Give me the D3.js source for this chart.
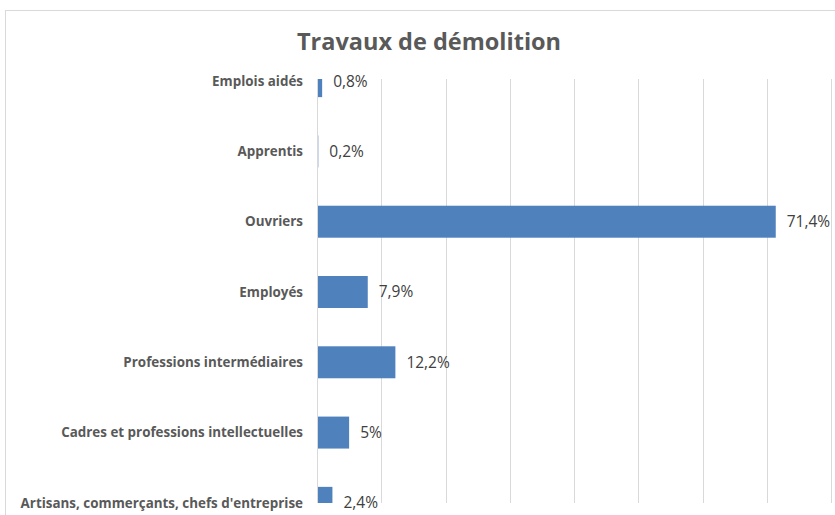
<!DOCTYPE html>
<html>
<head>
<meta charset="utf-8">
<script src="https://cdn.jsdelivr.net/npm/d3@7"></script>
<style>
  body { margin: 0; background: #fff; }
</style>
</head>
<body>
<div id="chart-area"></div>
<script>
// Data
const categories = ['Emplois aidés', 'Apprentis', 'Ouvriers', 'Employés',
  'Professions intermédiaires', 'Cadres et professions intellectuelles',
  "Artisans, commerçants, chefs d'entreprise"]
const values = [0.8, 0.2, 71.4, 7.9, 12.2, 5, 2.4]
const valueLabels = ['0,8%', '0,2%', '71,4%', '7,9%', '12,2%', '5%', '2,4%']
const xTicks = [0, 10, 20, 30, 40, 50, 60, 70, 80]

const W = 835, H = 515
const PLOT = { LEFT: 317, RIGHT: 831, TOP: 79, BOTTOM: 503 }
const FONT = "'Open Sans', sans-serif"

const svg = d3.select('#chart-area').append('svg')
  .attr('width', W)
  .attr('height', H)

// chart frame
svg.append('rect')
  .attr('x', 5.5).attr('y', 10.5)
  .attr('width', W + 20).attr('height', H + 20)
  .attr('fill', '#fff')
  .attr('stroke', '#d9d9d9')

// title
svg.append('text')
  .attr('x', 429)
  .attr('y', 50)
  .attr('text-anchor', 'middle')
  .attr('font-family', FONT)
  .attr('font-size', '23.5px')
  .attr('font-weight', 'bold')
  .attr('fill', '#595959')
  .text('Travaux de démolition')

// scales
const x = d3.scaleLinear()
  .domain([0, 80])
  .range([PLOT.LEFT, PLOT.RIGHT])

const y = d3.scaleBand()
  .domain(categories)
  .range([46, 538])
  .paddingInner(0.545)
  .paddingOuter(0.2725)

svg.append('clipPath').attr('id', 'plot-clip')
  .append('rect')
  .attr('x', PLOT.LEFT).attr('y', PLOT.TOP)
  .attr('width', PLOT.RIGHT - PLOT.LEFT + 10)
  .attr('height', PLOT.BOTTOM - PLOT.TOP)

// gridlines
svg.append('g')
  .selectAll('line')
  .data(xTicks.slice(1))
  .enter().append('line')
  .attr('x1', d => Math.round(x(d)) + 0.5)
  .attr('x2', d => Math.round(x(d)) + 0.5)
  .attr('y1', PLOT.TOP)
  .attr('y2', PLOT.BOTTOM)
  .attr('stroke', '#d9d9d9')

// bars
svg.append('g')
  .attr('clip-path', 'url(#plot-clip)')
  .selectAll('rect')
  .data(values)
  .enter().append('rect')
  .attr('x', x(0))
  .attr('y', (d, i) => y(categories[i]))
  .attr('width', d => x(d) - x(0))
  .attr('height', y.bandwidth())
  .attr('fill', '#4f81bd')

// vertical axis line
svg.append('line')
  .attr('x1', PLOT.LEFT + 0.5).attr('x2', PLOT.LEFT + 0.5)
  .attr('y1', PLOT.TOP).attr('y2', PLOT.BOTTOM)
  .attr('stroke', '#d9d9d9')

// category labels
svg.append('g')
  .selectAll('text')
  .data(categories)
  .enter().append('text')
  .attr('x', 303)
  .attr('y', d => y(d) + y.bandwidth() / 2)
  .attr('dy', '0.35em')
  .attr('text-anchor', 'end')
  .attr('font-family', FONT)
  .attr('font-size', '13.4px')
  .attr('font-weight', 'bold')
  .attr('fill', '#595959')
  .text(d => d)

// value labels
svg.append('g')
  .selectAll('text')
  .data(values)
  .enter().append('text')
  .attr('x', d => x(d) + 11)
  .attr('y', (d, i) => y(categories[i]) + y.bandwidth() / 2)
  .attr('dy', '0.35em')
  .attr('font-family', FONT)
  .attr('font-size', '15.5px')
  .attr('fill', '#404040')
  .text((d, i) => valueLabels[i])
</script>
</body>
</html>
